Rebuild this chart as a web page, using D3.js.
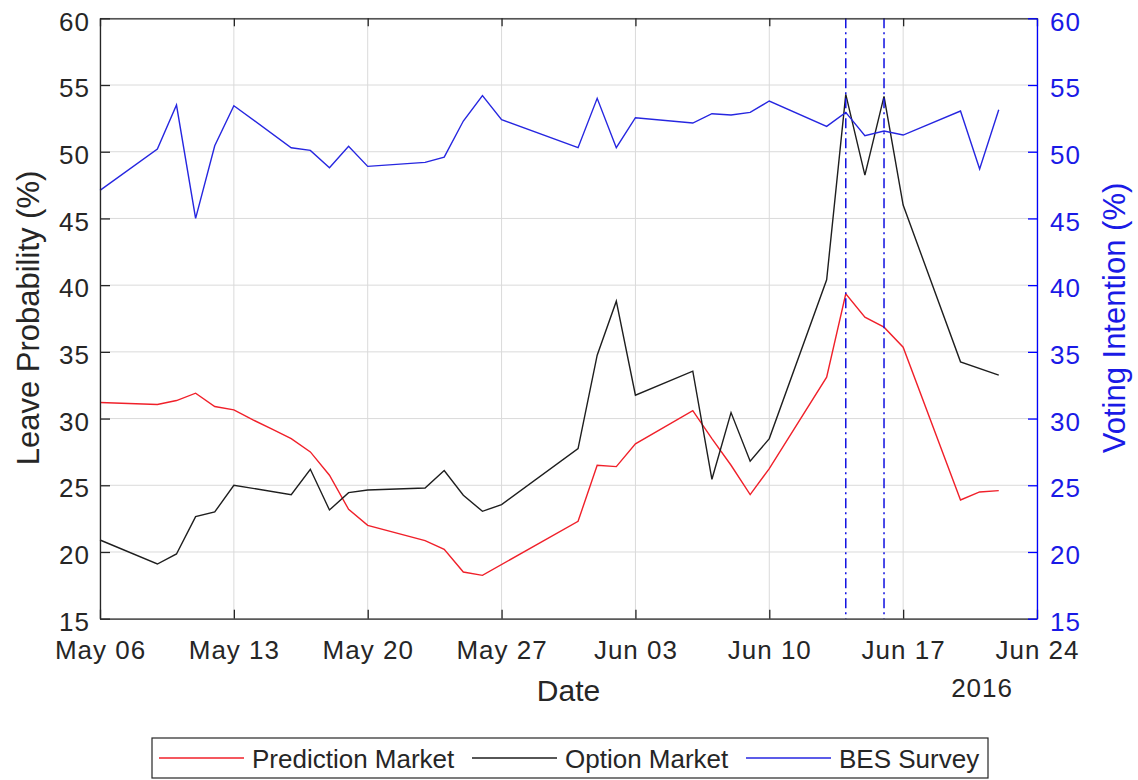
<!DOCTYPE html>
<html>
<head>
<meta charset="utf-8">
<script src="https://cdn.jsdelivr.net/npm/d3@7"></script>
<style>
  body { margin: 0; background: #fff; }
  svg { font-family: "Liberation Sans", Arial, Helvetica, sans-serif; }
</style>
</head>
<body>
<div id="chart"></div>
<script>
// trading days shown on the chart (2016)
var dates = ["2016-05-06","2016-05-09","2016-05-10","2016-05-11","2016-05-12","2016-05-13","2016-05-14","2016-05-15",
    "2016-05-16","2016-05-17","2016-05-18","2016-05-19","2016-05-20","2016-05-23","2016-05-24","2016-05-25","2016-05-26",
    "2016-05-27","2016-05-31","2016-06-01","2016-06-02","2016-06-03","2016-06-06","2016-06-07","2016-06-08","2016-06-09",
    "2016-06-10","2016-06-13","2016-06-14","2016-06-15","2016-06-16","2016-06-17","2016-06-20","2016-06-21","2016-06-22"];

var prediction = [31.2,31.05,31.35,31.9,30.9,30.65,29.9,29.2, 28.5,27.5,25.75,23.2,22.0, 20.85,20.2,18.5,18.25,null,
    22.3,26.5,26.4,28.1, 30.6,28.5,26.5,24.3,26.25, 33.1,39.35,37.6,36.85,35.35, 23.9,24.5,24.6];
var option = [20.9,19.1,19.85,22.65,23.0,25.0,null,null, 24.3,26.2,23.15,24.45,24.65, 24.8,26.1,24.25,23.05,23.55,
    27.75,34.75,38.8,31.75, 33.55,25.45,30.45,26.8,28.5, 40.4,54.3,48.25,54.15,46.0, 34.25,null,33.25];
var bes = [47.1,50.2,53.5,45.0,50.45,53.45,null,null, 50.3,50.1,48.8,50.4,48.9, 49.2,49.6,52.3,54.2,52.4,
    50.3,54.0,50.3,52.55, 52.15,52.85,52.75,52.95,53.8, 51.9,52.95,51.2,51.55,51.25, 53.05,48.7,53.15];

var eventDates = ["2016-06-14", "2016-06-16"];
var xTicks = ["2016-05-06","2016-05-13","2016-05-20","2016-05-27","2016-06-03","2016-06-10","2016-06-17","2016-06-24"];
var yTicks = [15, 20, 25, 30, 35, 40, 45, 50, 55, 60];

var legendNames = ["Prediction Market", "Option Market", "BES Survey"];
var colors = ["#f0202a", "#1e1e1e", "#2626e0"];

var W = 1138, H = 780;
var m = {left: 100, right: 101, top: 18.3, bottom: 161.3};
var pw = W - m.left - m.right, ph = H - m.top - m.bottom;
var parse = d3.utcParse("%Y-%m-%d");

var x = d3.scaleUtc().domain([parse("2016-05-06"), parse("2016-06-24")]).range([0, pw]);
var y = d3.scaleLinear().domain([15, 60]).range([ph, 0]);
var y2 = d3.scaleLinear().domain([15, 60]).range([ph, 0]);

var svg = d3.select("#chart").append("svg").attr("width", W).attr("height", H);
var g = svg.append("g").attr("transform", "translate(" + m.left + "," + m.top + ")");

// grid
g.append("g").selectAll("line").data(xTicks).enter().append("line")
    .attr("x1", function(d) { return x(parse(d)); }).attr("x2", function(d) { return x(parse(d)); })
    .attr("y1", 0).attr("y2", ph).attr("stroke", "#dadada").attr("stroke-width", 1);
g.append("g").selectAll("line").data(yTicks).enter().append("line")
    .attr("y1", function(d) { return y(d); }).attr("y2", function(d) { return y(d); })
    .attr("x1", 0).attr("x2", pw).attr("stroke", "#dadada").attr("stroke-width", 1);

// series
function pts(vals) {
    var out = [];
    for (var i = 0; i < dates.length; i++) {
        if (vals[i] != null) { out.push({d: parse(dates[i]), v: vals[i]}); }
    }
    return out;
}
var lineL = d3.line().x(function(p) { return x(p.d); }).y(function(p) { return y(p.v); });
var lineR = d3.line().x(function(p) { return x(p.d); }).y(function(p) { return y2(p.v); });

g.append("path").attr("d", lineL(pts(prediction))).attr("fill", "none").attr("stroke", colors[0]).attr("stroke-width", 1.4);
g.append("path").attr("d", lineL(pts(option))).attr("fill", "none").attr("stroke", colors[1]).attr("stroke-width", 1.4);
g.append("path").attr("d", lineR(pts(bes))).attr("fill", "none").attr("stroke", colors[2]).attr("stroke-width", 1.4);

// event markers
g.append("g").selectAll("line").data(eventDates).enter().append("line")
    .attr("x1", function(d) { return x(parse(d)); }).attr("x2", function(d) { return x(parse(d)); })
    .attr("y1", 0).attr("y2", ph).attr("stroke", "#1010e0").attr("stroke-width", 1.5)
    .attr("stroke-dasharray", "10,4,2,4");

// axes
var fmt = d3.utcFormat("%b %d");
var axB = g.append("g").attr("transform", "translate(0," + ph + ")")
    .call(d3.axisBottom(x).tickValues(xTicks.map(parse)).tickFormat(fmt).tickSizeInner(-9).tickSizeOuter(0).tickPadding(22));
var axT = g.append("g")
    .call(d3.axisTop(x).tickValues(xTicks.map(parse)).tickFormat("").tickSizeInner(-8).tickSizeOuter(0));
var axL = g.append("g")
    .call(d3.axisLeft(y).tickValues(yTicks).tickSizeInner(-10).tickSizeOuter(0).tickPadding(10));
var axR = g.append("g").attr("transform", "translate(" + pw + ",0)")
    .call(d3.axisRight(y2).tickValues(yTicks).tickSizeInner(-9).tickSizeOuter(0).tickPadding(13));

[axB, axT, axL].forEach(function(a) {
    a.select(".domain").attr("stroke", "#262626").attr("stroke-width", 1.3);
    a.selectAll(".tick line").attr("stroke", "#262626").attr("stroke-width", 1.3);
    a.selectAll("text").attr("fill", "#262626");
});
axR.select(".domain").attr("stroke", "#0000ff").attr("stroke-width", 1.3);
axR.selectAll(".tick line").attr("stroke", "#0000ff").attr("stroke-width", 1.3);
axR.selectAll("text").attr("fill", "#1a1ae6");

[axB, axL, axR].forEach(function(a) {
    a.selectAll("text").style("font-size", "26px").style("letter-spacing", "1px")
        .style("font-family", '"Liberation Sans", Arial, sans-serif');
});
axL.selectAll("text").attr("dy", "0.45em");
axR.selectAll("text").attr("dy", "0.45em");
axB.selectAll("text").attr("dy", "0.71em");

// year under the last tick
svg.append("text").attr("x", 1013).attr("y", 697).attr("text-anchor", "end")
    .attr("fill", "#262626").style("font-size", "26px").style("letter-spacing", "1px").text("2016");

// axis labels
svg.append("text").attr("x", 568.5).attr("y", 701).attr("text-anchor", "middle")
    .attr("fill", "#262626").style("font-size", "30px").text("Date");
svg.append("text").attr("transform", "translate(39,318) rotate(-90)").attr("text-anchor", "middle")
    .attr("fill", "#262626").style("font-size", "31px").text("Leave Probability (%)");
svg.append("text").attr("transform", "translate(1125,318) rotate(-90)").attr("text-anchor", "middle")
    .attr("fill", "#1a1ae6").style("font-size", "31px").text("Voting Intention (%)");

// legend
var leg = svg.append("g").attr("transform", "translate(152,738)");
leg.append("rect").attr("width", 836).attr("height", 40).attr("fill", "#fff")
    .attr("stroke", "#262626").attr("stroke-width", 1.2);
var legX = [7, 320, 594];
legendNames.forEach(function(name, i) {
    leg.append("line").attr("x1", legX[i]).attr("x2", legX[i] + 85).attr("y1", 20).attr("y2", 20)
        .attr("stroke", colors[i]).attr("stroke-width", 1.4);
    leg.append("text").attr("x", legX[i] + 93).attr("y", 30).attr("fill", "#262626")
        .style("font-size", "26px").text(name);
});
</script>
</body>
</html>
